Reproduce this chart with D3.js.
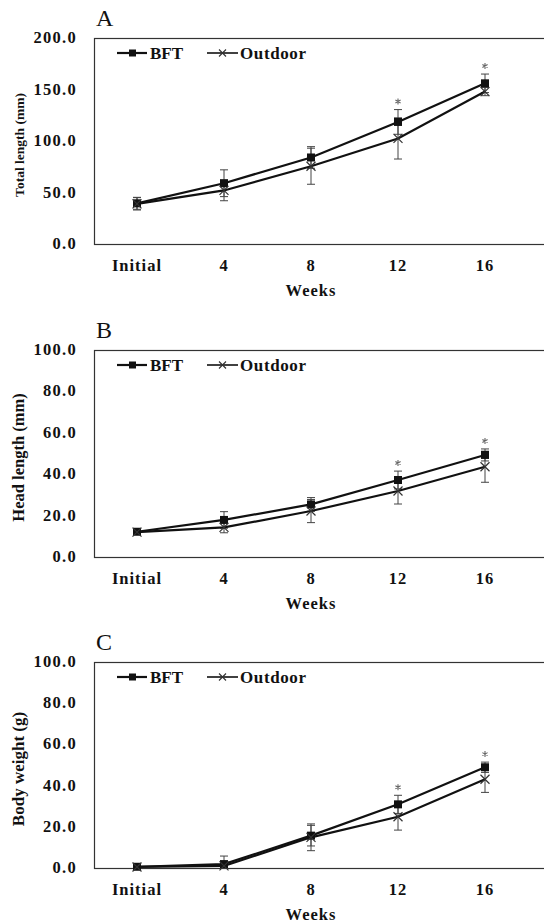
<!DOCTYPE html>
<html>
<head>
<meta charset="utf-8">
<script src="https://cdn.jsdelivr.net/npm/d3@7"></script>
<style>
  body { margin: 0; background: #fff; }
  svg { display: block; }
  text { font-family: "Liberation Serif", "Times New Roman", serif; fill: #111; }
</style>
</head>
<body>
<script>
// data
var weeks = ["Initial", "4", "8", "12", "16"];
var seriesNames = ["BFT", "Outdoor"];
var signif = [false, false, false, true, true];

var bftTotal = [39.5, 59, 84, 118.5, 156];
var bftTotalSd = [5.8, 13, 10.5, 12, 9];
var outTotal = [39, 52, 75.5, 102.5, 148];
var outTotalSd = [6, 10, 17.5, 20, 4];

var bftHead = [12.2, 17.9, 25.4, 37.2, 49.3];
var bftHeadSd = [0.6, 4, 3.3, 4.3, 2.9];
var outHead = [12, 14.3, 22.2, 31.9, 43.6];
var outHeadSd = [0.6, 2.6, 5.6, 6.3, 7.5];

var bftWeight = [0.6, 1.9, 15.7, 30.9, 48.9];
var bftWeightSd = [0.3, 3.9, 5, 4.4, 2.5];
var outWeight = [0.5, 1.0, 14.9, 24.9, 43.1];
var outWeightSd = [0.3, 1.5, 6.5, 6.5, 6.4];

var totalTicks = [0, 50, 100, 150, 200];
var smallTicks = [0, 20, 40, 60, 80, 100];

var svg = d3.select("body").append("svg")
    .attr("width", 544)
    .attr("height", 923);

var x = d3.scalePoint().domain(weeks).range([137, 485]);

function drawPanel(letter, top, bottom, maxY, ticks, yTitle, titleSize, bft, bftSd, out, outSd) {
    var y = d3.scaleLinear().domain([0, maxY]).range([bottom, top]);
    var g = svg.append("g");

    // panel letter
    g.append("text")
        .attr("x", 96).attr("y", top - 12)
        .style("font-size", "24px")
        .text(letter);

    // frame (right side runs off the picture)
    g.append("rect")
        .attr("x", 94.5).attr("y", top + 0.5)
        .attr("width", 470).attr("height", bottom - top)
        .attr("fill", "none")
        .attr("stroke", "#333")
        .attr("stroke-width", 1.2);

    // y tick labels
    g.selectAll(".ytick").data(ticks).enter().append("text")
        .attr("x", 77)
        .attr("y", function(d) { return y(d) + 5; })
        .attr("text-anchor", "end")
        .style("font-size", "16.5px").style("font-weight", "bold")
        .style("letter-spacing", "1.3px")
        .text(function(d) { return d3.format(".1f")(d); });

    // x tick labels
    g.selectAll(".xtick").data(weeks).enter().append("text")
        .attr("x", function(d) { return x(d); })
        .attr("y", bottom + 27)
        .attr("text-anchor", "middle")
        .style("font-size", "16.5px").style("font-weight", "bold")
        .style("letter-spacing", "1px")
        .text(function(d) { return d; });

    g.append("text")
        .attr("x", 311).attr("y", bottom + 52)
        .attr("text-anchor", "middle")
        .style("font-size", "16.5px").style("font-weight", "bold")
        .style("letter-spacing", "1px")
        .text("Weeks");

    g.append("text")
        .attr("transform", "translate(24," + ((top + bottom) / 2 + 4) + ") rotate(-90)")
        .attr("text-anchor", "middle")
        .style("font-size", titleSize + "px").style("font-weight", "bold")
        .text(yTitle);

    var sets = [
        { vals: bft, sd: bftSd },
        { vals: out, sd: outSd }
    ];

    // error bars
    sets.forEach(function(s) {
        var eb = g.append("g").attr("stroke", "#444").attr("stroke-width", 1);
        s.vals.forEach(function(v, i) {
            var cx = x(weeks[i]);
            var y1 = y(v + s.sd[i]), y2 = y(Math.max(0, v - s.sd[i]));
            eb.append("line").attr("x1", cx).attr("x2", cx).attr("y1", y1).attr("y2", y2);
            eb.append("line").attr("x1", cx - 4).attr("x2", cx + 4).attr("y1", y1).attr("y2", y1);
            eb.append("line").attr("x1", cx - 4).attr("x2", cx + 4).attr("y1", y2).attr("y2", y2);
        });
    });

    var line = d3.line()
        .x(function(d, i) { return x(weeks[i]); })
        .y(function(d) { return y(d); });

    sets.slice().reverse().forEach(function(s) {
        g.append("path")
            .attr("d", line(s.vals))
            .attr("fill", "none")
            .attr("stroke", "#111")
            .attr("stroke-width", 2.2);
    });

    // markers
    g.selectAll(".sq").data(bft).enter().append("rect")
        .attr("x", function(d, i) { return x(weeks[i]) - 4; })
        .attr("y", function(d) { return y(d) - 4; })
        .attr("width", 8).attr("height", 8)
        .attr("fill", "#111");

    g.selectAll(".cr").data(out).enter().append("path")
        .attr("d", function(d, i) {
            var cx = x(weeks[i]), cy = y(d);
            return "M" + (cx - 4.5) + "," + (cy - 4.5) + "L" + (cx + 4.5) + "," + (cy + 4.5) +
                   "M" + (cx - 4.5) + "," + (cy + 4.5) + "L" + (cx + 4.5) + "," + (cy - 4.5);
        })
        .attr("stroke", "#333").attr("stroke-width", 1.2);

    // significance stars, drawn as small asterisks
    bft.forEach(function(v, i) {
        if (!signif[i]) return;
        var cx = x(weeks[i]), cy = y(v + bftSd[i]) - 8, r = 3;
        var d = "";
        [90, 30, -30].forEach(function(a) {
            var dx = r * Math.cos(a * Math.PI / 180), dy = r * Math.sin(a * Math.PI / 180);
            d += "M" + (cx - dx) + "," + (cy - dy) + "L" + (cx + dx) + "," + (cy + dy);
        });
        g.append("path").attr("d", d).attr("stroke", "#666").attr("stroke-width", 1.1);
    });

    // legend
    var ly = top + 15;
    var lg = g.append("g");
    lg.append("line").attr("x1", 117).attr("x2", 147).attr("y1", ly).attr("y2", ly)
        .attr("stroke", "#111").attr("stroke-width", 2.2);
    lg.append("rect").attr("x", 129).attr("y", ly - 3.5).attr("width", 7).attr("height", 7)
        .attr("fill", "#111");
    lg.append("text").attr("x", 150).attr("y", ly + 6)
        .style("font-size", "17px").style("font-weight", "bold")
        .text(seriesNames[0]);
    lg.append("line").attr("x1", 207).attr("x2", 238).attr("y1", ly).attr("y2", ly)
        .attr("stroke", "#111").attr("stroke-width", 1.6);
    lg.append("path")
        .attr("d", "M219," + (ly - 3.5) + "L226," + (ly + 3.5) + "M219," + (ly + 3.5) + "L226," + (ly - 3.5))
        .attr("stroke", "#333").attr("stroke-width", 1.1);
    lg.append("text").attr("x", 240).attr("y", ly + 6)
        .style("font-size", "17px").style("font-weight", "bold")
        .style("letter-spacing", "0.6px")
        .text(seriesNames[1]);
}

drawPanel("A", 38, 244, 200, totalTicks, "Total length (mm)", 13.5, bftTotal, bftTotalSd, outTotal, outTotalSd);
drawPanel("B", 350, 557, 100, smallTicks, "Head length (mm)", 16.5, bftHead, bftHeadSd, outHead, outHeadSd);
drawPanel("C", 662, 868, 100, smallTicks, "Body weight (g)", 17, bftWeight, bftWeightSd, outWeight, outWeightSd);
</script>
</body>
</html>
